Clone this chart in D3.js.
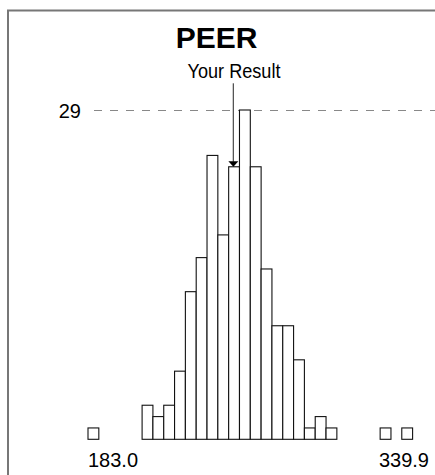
<!DOCTYPE html>
<html>
<head>
<meta charset="utf-8">
<script src="https://cdn.jsdelivr.net/npm/d3@7"></script>
<style>
  html, body { margin: 0; padding: 0; background: #fff; }
  svg { display: block; }
  text { font-family: "Liberation Sans", Arial, Helvetica, sans-serif; fill: #000; }
</style>
</head>
<body>
<script>
// Peer score distribution: counts per bin, starting at the lowest result.
const binStart = 183.0;
const binWidth = 5.3;
const counts = [1, 0, 0, 0, 0,
  3, 2, 3, 6, 13, 16, 25, 18, 24, 29, 24, 15, 10, 10, 7, 1, 2, 1,
  0, 0, 0, 0, 1, 0, 1];
const yTicks = [29];
const rangeLabels = ["183.0", "339.9"];
const yourResult = 254.2;
const title = "PEER";
const markerLabel = "Your Result";

const W = 435, H = 475;
const svg = d3.select("body").append("svg")
  .attr("width", W).attr("height", H);

// frame (open on the right and bottom)
svg.append("path")
  .attr("d", `M8,${H} V10.5 H${W}`)
  .attr("fill", "none")
  .attr("stroke", "#777")
  .attr("stroke-width", 2);

const bins = counts.map((c, i) => ({
  x0: binStart + i * binWidth,
  x1: binStart + (i + 1) * binWidth,
  count: c
}));

const x = d3.scaleLinear()
  .domain([binStart, binStart + counts.length * binWidth])
  .range([88, 88 + counts.length * 10.82]);
const y = d3.scaleLinear()
  .domain([0, 29])
  .range([439.3, 110]);

// title
svg.append("text")
  .attr("x", 216.7).attr("y", 48)
  .attr("text-anchor", "middle")
  .style("font-size", "30px")
  .style("font-weight", "bold")
  .text(title);

// reference line at the top count
const axis = d3.axisLeft(y)
  .tickValues(yTicks)
  .tickFormat(d3.format("d"))
  .tickSize(-(W - 94))
  .tickPadding(13);
const gAxis = svg.append("g")
  .attr("transform", "translate(94,0)")
  .call(axis);
gAxis.select(".domain").remove();
gAxis.selectAll(".tick line")
  .attr("stroke", "#888")
  .attr("stroke-width", 1.2)
  .attr("stroke-dasharray", "8,8");
gAxis.selectAll(".tick text")
  .attr("fill", "#000")
  .attr("dy", "0.36em")
  .style("font-size", "20px")
  .style("font-family", '"Liberation Sans", Arial, Helvetica, sans-serif');

// histogram bars
svg.append("g")
  .selectAll("rect")
  .data(bins.filter(d => d.count > 0))
  .join("rect")
  .attr("x", d => x(d.x0))
  .attr("y", d => y(d.count))
  .attr("width", d => x(d.x1) - x(d.x0))
  .attr("height", d => y(0) - y(d.count))
  .attr("fill", "#fff")
  .attr("stroke", "#111")
  .attr("stroke-width", 1.1);

// marker for the participant's own result
const hit = bins.find(d => yourResult >= d.x0 && yourResult < d.x1);
const mx = x(yourResult);
const tipY = y(hit.count);
svg.append("line")
  .attr("x1", mx).attr("x2", mx)
  .attr("y1", 83.3).attr("y2", tipY - 5)
  .attr("stroke", "#555")
  .attr("stroke-width", 1.3);
svg.append("path")
  .attr("d", `M${mx - 5},${tipY - 5.5} L${mx + 5},${tipY - 5.5} L${mx},${tipY} Z`)
  .attr("fill", "#000");
svg.append("text")
  .attr("x", 234).attr("y", 78)
  .attr("text-anchor", "middle")
  .attr("textLength", 93)
  .attr("lengthAdjust", "spacingAndGlyphs")
  .style("font-family", '"Liberation Sans Narrow", "Liberation Sans", Arial, sans-serif')
  .style("font-size", "21px")
  .text(markerLabel);

// range labels under the axis
svg.append("text")
  .attr("x", x(binStart)).attr("y", 466.5)
  .attr("text-anchor", "start")
  .style("font-size", "20px")
  .text(rangeLabels[0]);
svg.append("text")
  .attr("x", 429).attr("y", 466.5)
  .attr("text-anchor", "end")
  .style("font-size", "20px")
  .text(rangeLabels[1]);
</script>
</body>
</html>
